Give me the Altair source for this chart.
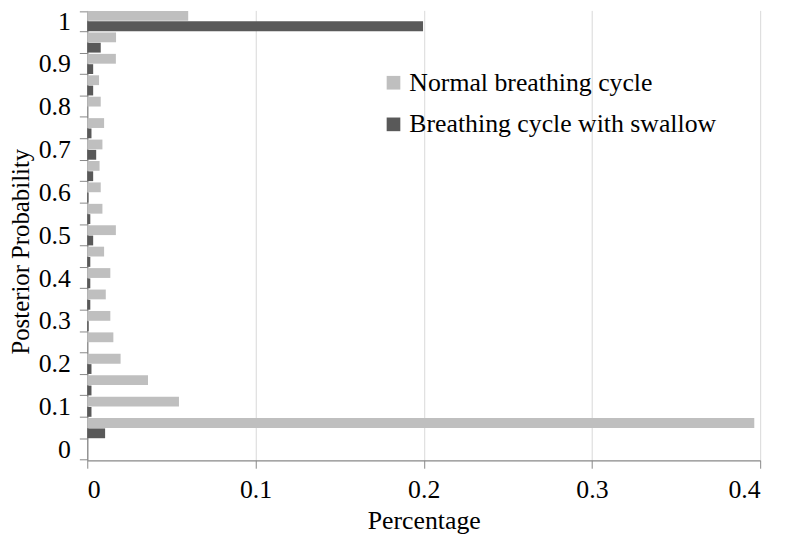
import altair as alt
import pandas as pd

categories = ["0", "0.05", "0.1", "0.15", "0.2", "0.25", "0.3", "0.35", "0.4", "0.45",
              "0.5", "0.55", "0.6", "0.65", "0.7", "0.75", "0.8", "0.85", "0.9", "0.95", "1"]
series_names = ["Normal breathing cycle", "Breathing cycle with swallow"]
normal = [0.0, 0.3965, 0.0545, 0.0361, 0.0198, 0.0155, 0.0137, 0.011, 0.0137, 0.010,
          0.017, 0.009, 0.008, 0.0073, 0.009, 0.010, 0.008, 0.007, 0.017, 0.0171, 0.060]
swallow = [0.0, 0.0106, 0.0025, 0.0025, 0.0025, 0.0, 0.0008, 0.0018, 0.0018, 0.0018,
           0.0035, 0.0018, 0.0007, 0.0035, 0.0053, 0.0025, 0.0, 0.0035, 0.0035, 0.008, 0.1996]
x_ticks = [0, 0.1, 0.2, 0.3, 0.4]
colors = ["#BFBFBF", "#595959"]

rows = []
for c, n, s in zip(categories, normal, swallow):
    rows.append({"cat": c, "series": series_names[0], "value": n})
    rows.append({"cat": c, "series": series_names[1], "value": s})
df = pd.DataFrame(rows)

cat_order = list(reversed(categories))
FONT = "Liberation Serif"
FS = 26

chart = alt.Chart(df).mark_bar().encode(
    x=alt.X("value:Q",
            scale=alt.Scale(domain=[0, 0.4], nice=False, zero=True),
            axis=alt.Axis(values=x_ticks, title="Percentage", grid=True,
                          gridColor="#D9D9D9", tickSize=8, labelPadding=9,
                          labelExpr="datum.value == 0 ? '0' : format(datum.value, '.1f')",
                          titlePadding=5)),
    y=alt.Y("cat:N", sort=cat_order,
            scale=alt.Scale(paddingInner=0.06, paddingOuter=0.03),
            axis=alt.Axis(tickBand="extent", grid=False, tickSize=8, labelPadding=9,
                          labelExpr="length(datum.label) <= 3 ? datum.label : ''",
                          title="Posterior Probability", titleFontSize=25,
                          titleX=-79, titleY=243, titleBaseline="top")),
    yOffset=alt.YOffset("series:N", sort=series_names,
                        scale=alt.Scale(paddingInner=0.05)),
    color=alt.Color("series:N", sort=series_names,
                    scale=alt.Scale(domain=series_names, range=colors),
                    legend=alt.Legend(title=None, orient="none", legendX=296, legendY=60,
                                      symbolType="square", symbolSize=190,
                                      labelFontSize=FS, labelFont=FONT, labelLimit=0,
                                      labelColor="#000000", rowPadding=16,
                                      labelOffset=3, padding=0, symbolStrokeWidth=0)),
).properties(
    width=679, height=454,
    padding={"left": 80, "top": 0, "right": 18, "bottom": 75},
    autosize="none",
).configure_view(stroke=None).configure_axis(
    labelFont=FONT, titleFont=FONT, labelFontSize=FS, titleFontSize=FS,
    titleFontWeight="normal", labelColor="#000000", titleColor="#000000",
    domainColor="#888888", tickColor="#888888", domainWidth=1.3,
)

chart.save("out.html", embed_options={"renderer": "svg", "actions": False})
